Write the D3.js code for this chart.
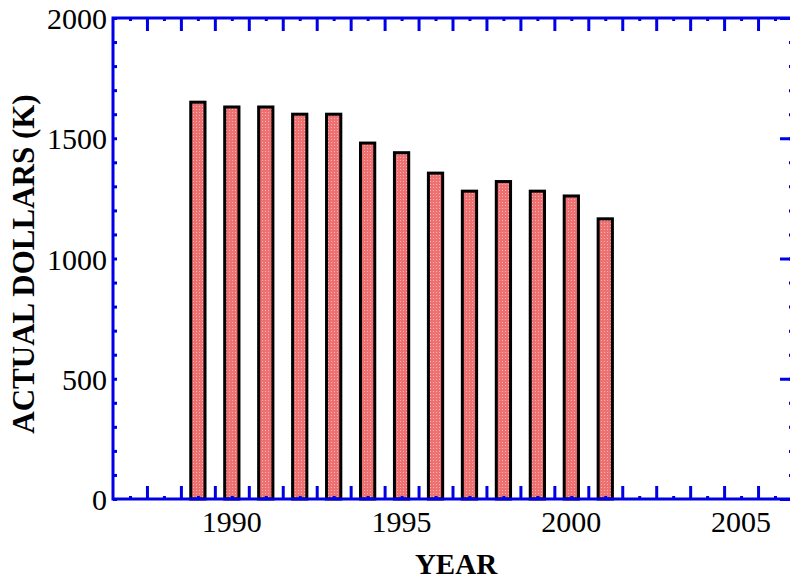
<!DOCTYPE html>
<html>
<head>
    <title>Actual dollars by year</title>
    <script src="https://d3js.org/d3.v7.min.js"></script>
    <style>
        body { margin: 0; background: #fff; }
        text { font-family: "Liberation Serif", "Times New Roman", serif; fill: #000; }
    </style>
</head>
<body>
    <div id="chart"></div>

    <script>
        // data
        const years = [1989, 1990, 1991, 1992, 1993, 1994, 1995, 1996, 1997, 1998, 1999, 2000, 2001];
        const dollars = [1650, 1630, 1630, 1600, 1600, 1480, 1440, 1355, 1280, 1320, 1280, 1260, 1165];
        const yearLabels = [1990, 1995, 2000, 2005];
        const dollarLabels = [0, 500, 1000, 1500, 2000];

        const W = 790, H = 580;
        const plotL = 113, plotR = 792, plotT = 18, plotB = 499;
        const blue = "#0000e6";

        const svg = d3.select("#chart")
          .append("svg")
            .attr("width", W)
            .attr("height", H);

        // bar fill pattern (pink checker)
        const pat = svg.append("defs").append("pattern")
            .attr("id", "pink")
            .attr("width", 3).attr("height", 3)
            .attr("patternUnits", "userSpaceOnUse");
        pat.append("rect").attr("width", 3).attr("height", 3).attr("fill", "#ee7070");
        pat.append("rect").attr("x", 1).attr("y", 1).attr("width", 1).attr("height", 1).attr("fill", "#f7b4b4");

        const x = d3.scaleLinear()
          .domain([1986.5, 2006.5])
          .range([plotL, plotR]);

        const y = d3.scaleLinear()
          .domain([0, 2000])
          .range([plotB, plotT]);

        // tick positions
        const intYears = d3.range(1987, 2007);
        const halfYears = d3.range(1987.5, 2006.5, 1);
        const hundreds = d3.range(0, 2001, 100);
        const fiveHundreds = d3.range(0, 2001, 500);

        // bars
        const barW = 0.42;
        svg.append("g")
          .selectAll("rect")
          .data(years)
          .enter()
          .append("rect")
            .attr("x", function(d) { return x(d - barW / 2); })
            .attr("width", function(d) { return x(d + barW / 2) - x(d - barW / 2); })
            .attr("y", function(d, i) { return y(dollars[i]); })
            .attr("height", function(d, i) { return y(0) - y(dollars[i]); })
            .attr("fill", "url(#pink)")
            .attr("stroke", "#000")
            .attr("stroke-width", 3);

        function styleAxis(g) {
            g.selectAll(".domain").remove();
            g.selectAll(".tick line").attr("stroke", blue).attr("stroke-width", 3);
            g.selectAll(".tick text").remove();
        }

        // bottom axis: long ticks at half years, short at whole years
        svg.append("g").attr("transform", `translate(0,${plotB})`)
          .call(d3.axisBottom(x).tickValues(halfYears).tickSize(-13)).call(styleAxis);
        svg.append("g").attr("transform", `translate(0,${plotB})`)
          .call(d3.axisBottom(x).tickValues(intYears).tickSize(-3)).call(styleAxis);

        // top axis
        svg.append("g").attr("transform", `translate(0,${plotT})`)
          .call(d3.axisTop(x).tickValues(halfYears).tickSize(-13)).call(styleAxis);
        svg.append("g").attr("transform", `translate(0,${plotT})`)
          .call(d3.axisTop(x).tickValues(intYears).tickSize(-3)).call(styleAxis);

        // left axis: short ticks
        svg.append("g").attr("transform", `translate(${plotL},0)`)
          .call(d3.axisLeft(y).tickValues(hundreds).tickSize(-4)).call(styleAxis);

        // right axis: long ticks at 500s
        svg.append("g").attr("transform", `translate(${plotR},0)`)
          .call(d3.axisRight(y).tickValues(fiveHundreds).tickSize(-12)).call(styleAxis);
        svg.append("g").attr("transform", `translate(${plotR},0)`)
          .call(d3.axisRight(y).tickValues(hundreds).tickSize(-3)).call(styleAxis);

        // frame lines (right side falls off the page)
        svg.append("path")
          .attr("d", `M${plotR + 2},${plotT}H${plotL}V${plotB}H${plotR + 2}`)
          .attr("fill", "none")
          .attr("stroke", blue)
          .attr("stroke-width", 3);

        // tick labels
        svg.append("g")
          .selectAll("text")
          .data(yearLabels)
          .enter()
          .append("text")
            .attr("x", function(d) { return x(d); })
            .attr("y", 532)
            .attr("text-anchor", "middle")
            .style("font-size", "30px")
            .text(function(d) { return d; });

        svg.append("g")
          .selectAll("text")
          .data(dollarLabels)
          .enter()
          .append("text")
            .attr("x", plotL - 6)
            .attr("y", function(d) { return y(d) + 11; })
            .attr("text-anchor", "end")
            .style("font-size", "30px")
            .text(function(d) { return d; });

        // axis titles
        svg.append("text")
          .attr("x", 456)
          .attr("y", 574)
          .attr("text-anchor", "middle")
          .style("font-size", "29px")
          .style("font-weight", "bold")
          .text("YEAR");

        svg.append("text")
          .attr("transform", "translate(34,264) rotate(-90)")
          .attr("text-anchor", "middle")
          .style("font-size", "31px")
          .style("font-weight", "bold")
          .text("ACTUAL DOLLARS (K)");
    </script>
</body>
</html>
